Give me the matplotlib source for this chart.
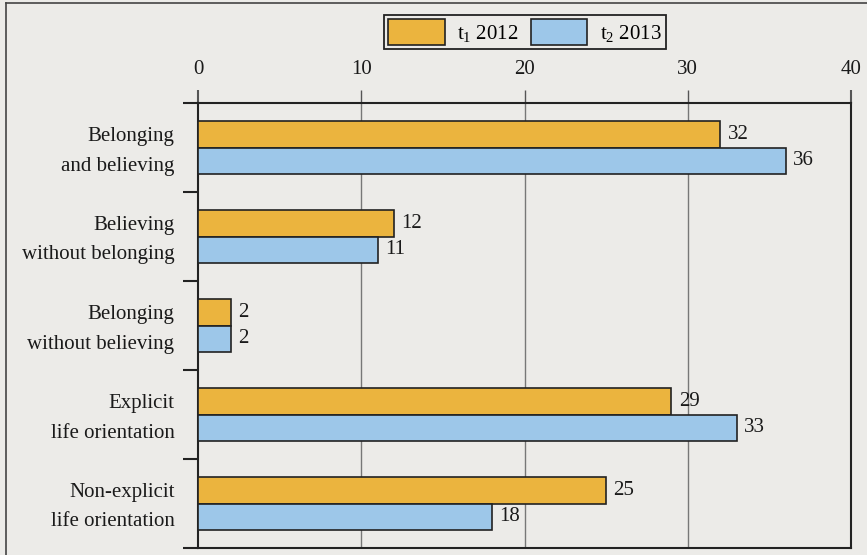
import matplotlib
matplotlib.use("Agg")
import matplotlib.pyplot as plt
import numpy as np
from matplotlib.lines import Line2D
from matplotlib.patches import Patch
from matplotlib.transforms import ScaledTranslation

categories = ["Belonging\nand believing", "Believing\nwithout belonging",
              "Belonging\nwithout believing", "Explicit\nlife orientation",
              "Non-explicit\nlife orientation"]
values_2012 = [32, 12, 2, 29, 25]
values_2013 = [36, 11, 2, 33, 18]
series_labels = ["t$_1$ 2012", "t$_2$ 2013"]
x_ticks = [0, 10, 20, 30, 40]

plt.rcParams['font.family'] = ['Liberation Serif', 'DejaVu Serif']
plt.rcParams['mathtext.fontset'] = 'custom'
plt.rcParams['mathtext.rm'] = 'Liberation Serif'
plt.rcParams['mathtext.default'] = 'regular'

BG = '#ecebe8'
C1 = '#ebb43e'
C2 = '#9dc7e9'
FS = 15

fig = plt.figure(figsize=(8.67, 5.55), dpi=100, facecolor=BG)
ax = fig.add_axes([198/867, 1-548/555, (851-198)/867, (548-103)/555])
ax.set_facecolor(BG)

y = np.arange(len(categories))
h = 0.30
b1 = ax.barh(y - h/2, values_2012, height=h, color=C1, edgecolor='#222222', linewidth=1.2, zorder=3)
b2 = ax.barh(y + h/2, values_2013, height=h, color=C2, edgecolor='#222222', linewidth=1.2, zorder=3)

for bars, vals in ((b1, values_2012), (b2, values_2013)):
    for bar, v in zip(bars, vals):
        ax.text(v + 0.45, bar.get_y() + bar.get_height()/2, str(v),
                va='center', ha='left', fontsize=FS, color='#1a1a1a', zorder=4)

ax.set_xlim(0, 40)
ax.set_ylim(len(categories) - 0.5, -0.5)

ax.set_xticks(x_ticks)
ax.xaxis.tick_top()
ax.tick_params(axis='x', direction='out', length=9.5, width=1.0, color='#555555',
               labelsize=FS, pad=8, labelcolor='#1a1a1a')
for v in x_ticks[1:-1]:
    ax.axvline(v, color='#777777', linewidth=1.0, zorder=1)

ax.set_yticks(y)
ax.set_yticklabels(categories, fontsize=FS, linespacing=1.75, color='#1a1a1a')
ax.tick_params(axis='y', which='major', length=0, pad=17)
ax.set_yticks(np.arange(-0.5, len(categories)), minor=True)
ax.tick_params(axis='y', which='minor', direction='out', length=11, width=1.5, color='#222222')
shift = ScaledTranslation(0, 4/100, fig.dpi_scale_trans)
for lab in ax.get_yticklabels():
    lab.set_transform(lab.get_transform() + shift)

for s in ax.spines.values():
    s.set_linewidth(1.5)
    s.set_color('#222222')

# outer ticks at 0 and 40 in black
for t in (ax.xaxis.get_major_ticks()[0], ax.xaxis.get_major_ticks()[-1]):
    t.tick2line.set_color('#222222')
    t.tick2line.set_markeredgewidth(1.5)

handles = [Patch(facecolor=C1, edgecolor='#222222', linewidth=1.2),
           Patch(facecolor=C2, edgecolor='#222222', linewidth=1.2)]
leg = fig.legend(handles, series_labels, loc='center', bbox_to_anchor=(525/867, 1-32/555),
                 ncol=2, fontsize=FS, frameon=True, fancybox=False, framealpha=1,
                 facecolor=BG, edgecolor='#222222', handlelength=2.7, handleheight=1.5,
                 columnspacing=0.6, handletextpad=0.6, borderpad=0.2, borderaxespad=0)
leg.get_frame().set_linewidth(1.3)

# page frame lines from the scan
fig.add_artist(Line2D([6/867, 6/867], [0, 1-3/555], transform=fig.transFigure, color='#444444', lw=1.2))
fig.add_artist(Line2D([6/867, 1], [1-3/555, 1-3/555], transform=fig.transFigure, color='#444444', lw=1.2))

fig.savefig('out.png', dpi=100, facecolor=BG)
